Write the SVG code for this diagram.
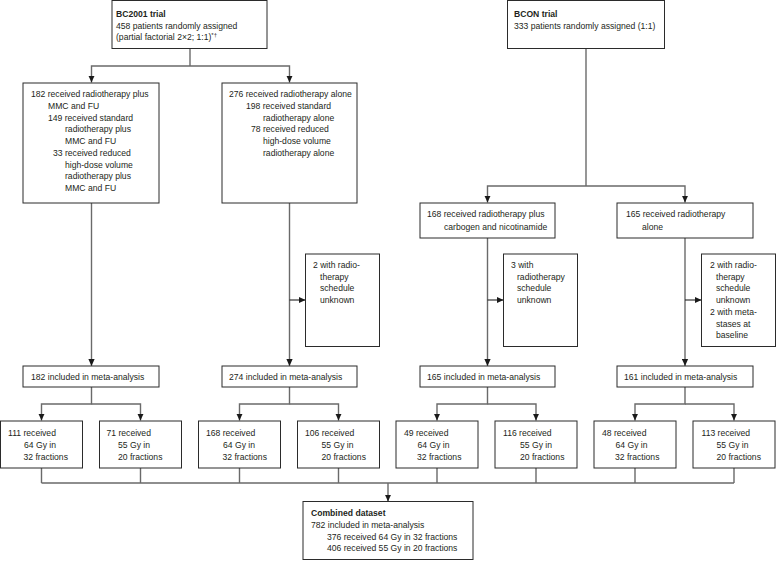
<svg xmlns="http://www.w3.org/2000/svg" width="776" height="562" viewBox="0 0 776 562">
<defs>
<marker id="ah" viewBox="0 0 10 10" refX="10" refY="5" markerWidth="7" markerHeight="7" markerUnits="userSpaceOnUse" orient="auto">
<path d="M0,0.5 L10,5 L0,9.5 Z" fill="#1a1a1a"/>
</marker>
<style>
.box{fill:#fff;stroke:#2b2b2b;stroke-width:1}
.c{fill:none;stroke:#6a6a6a;stroke-width:1.4}
.ca{fill:none;stroke:#6a6a6a;stroke-width:1.4;marker-end:url(#ah)}
.h{fill:none;stroke:#222;stroke-width:1.1;marker-end:url(#ah)}
text{font-family:"Liberation Sans",Arial,sans-serif;font-size:8.6px;fill:#231f20}
.b{font-weight:bold}
</style>
</defs>
<rect width="776" height="562" fill="#fff"/>
<g id="connectors">
<path class="c" d="M190,48.5 V66"/>
<path class="ca" d="M190,66 H91.5 V82.5"/>
<path class="ca" d="M190,66 H289.5 V82.5"/>
<path class="ca" d="M91.5,203 V366"/>
<path class="ca" d="M289.5,203 V366"/>
<path class="h" d="M289.5,300 H305.5"/>
<path class="c" d="M586,48.5 V186"/>
<path class="ca" d="M586,186 H487.5 V202.5"/>
<path class="ca" d="M586,186 H685 V202.5"/>
<path class="ca" d="M487.5,238 V366"/>
<path class="h" d="M487.5,300 H503.5"/>
<path class="ca" d="M685,238 V366"/>
<path class="h" d="M685,300 H701.5"/>
<path class="ca" d="M91.5,387 V404 H41.5 V420.5"/>
<path class="ca" d="M91.5,404 H140.5 V420.5"/>
<path class="ca" d="M289.5,387 V404 H239.5 V420.5"/>
<path class="ca" d="M289.5,404 H338.5 V420.5"/>
<path class="ca" d="M487.5,387 V404 H437 V420.5"/>
<path class="ca" d="M487.5,404 H536 V420.5"/>
<path class="ca" d="M685,387 V404 H635 V420.5"/>
<path class="ca" d="M685,404 H734 V420.5"/>
<path class="c" d="M41.5,468 V483 M140.5,468 V483 M239.5,468 V483 M338.5,468 V483 M437,468 V483 M536,468 V483 M635,468 V483 M734,468 V483 M41.5,483 H734"/>
<path class="ca" d="M388,483 V501.5"/>
</g>
<g id="bc2001">
<rect class="box" x="112" y="0.5" width="155" height="48"/>
<text x="116" y="17" class="b">BC2001 trial</text>
<text x="116" y="28.7">458 patients randomly assigned</text>
<text x="116" y="40.4">(partial factorial 2×2; 1:1)<tspan font-size="6" dy="-3">*†</tspan></text>
</g>
<g id="bcon">
<rect class="box" x="507.5" y="0.5" width="157" height="48"/>
<text x="514" y="17" class="b">BCON trial</text>
<text x="514" y="28.7">333 patients randomly assigned (1:1)</text>
</g>
<g id="arm-mmc">
<rect class="box" x="23" y="83" width="136" height="120"/>
<text x="31" y="97.3">182 received radiotherapy plus</text>
<text x="48" y="109">MMC and FU</text>
<text x="48" y="120.7">149 received standard</text>
<text x="65" y="132.4">radiotherapy plus</text>
<text x="65" y="144.1">MMC and FU</text>
<text x="53" y="155.8">33 received reduced</text>
<text x="65" y="167.5">high-dose volume</text>
<text x="65" y="179.2">radiotherapy plus</text>
<text x="65" y="190.9">MMC and FU</text>
</g>
<g id="arm-rt">
<rect class="box" x="222" y="83" width="135" height="120"/>
<text x="229" y="97.3">276 received radiotherapy alone</text>
<text x="246" y="109">198 received standard</text>
<text x="263" y="120.7">radiotherapy alone</text>
<text x="251" y="132.4">78 received reduced</text>
<text x="263" y="144.1">high-dose volume</text>
<text x="263" y="155.8">radiotherapy alone</text>
</g>
<g id="arm-carbogen">
<rect class="box" x="420" y="203" width="135" height="35"/>
<text x="427" y="217">168 received radiotherapy plus</text>
<text x="444" y="229.7">carbogen and nicotinamide</text>
</g>
<g id="arm-bcon-rt">
<rect class="box" x="617" y="203" width="136" height="35"/>
<text x="626" y="217">165 received radiotherapy</text>
<text x="642" y="229.7">alone</text>
</g>
<g id="excl-1">
<rect class="box" x="305.5" y="254" width="74" height="92.5"/>
<text x="313" y="268">2 with radio-</text>
<text x="320" y="279.7">therapy</text>
<text x="320" y="291.4">schedule</text>
<text x="320" y="303.1">unknown</text>
</g>
<g id="excl-2">
<rect class="box" x="503.5" y="254" width="74" height="92.5"/>
<text x="511" y="268">3 with</text>
<text x="517" y="279.7">radiotherapy</text>
<text x="517" y="291.4">schedule</text>
<text x="517" y="303.1">unknown</text>
</g>
<g id="excl-3">
<rect class="box" x="701.5" y="254" width="74" height="92.5"/>
<text x="710" y="268">2 with radio-</text>
<text x="716" y="279.7">therapy</text>
<text x="716" y="291.4">schedule</text>
<text x="716" y="303.1">unknown</text>
<text x="710" y="314.8">2 with meta-</text>
<text x="716" y="326.5">stases at</text>
<text x="716" y="338.2">baseline</text>
</g>
<g id="meta-182">
<rect class="box" x="23" y="366" width="136" height="21"/>
<text x="31" y="379.5">182 included in meta-analysis</text>
</g>
<g id="meta-274">
<rect class="box" x="222" y="366" width="135" height="21"/>
<text x="229" y="379.5">274 included in meta-analysis</text>
</g>
<g id="meta-165">
<rect class="box" x="420" y="366" width="135" height="21"/>
<text x="427" y="379.5">165 included in meta-analysis</text>
</g>
<g id="meta-161">
<rect class="box" x="617" y="366" width="136" height="21"/>
<text x="624" y="379.5">161 included in meta-analysis</text>
</g>
<g id="leaf-111">
<rect class="box" x="0.5" y="421" width="82" height="47"/>
<text x="8" y="436.3">111 received</text>
<text x="24" y="448">64 Gy in</text>
<text x="23.5" y="459.7">32 fractions</text>
</g>
<g id="leaf-71">
<rect class="box" x="99.5" y="421" width="82" height="47"/>
<text x="106.5" y="436.3">71 received</text>
<text x="118" y="448">55 Gy in</text>
<text x="118" y="459.7">20 fractions</text>
</g>
<g id="leaf-168">
<rect class="box" x="198.5" y="421" width="82" height="47"/>
<text x="206" y="436.3">168 received</text>
<text x="223" y="448">64 Gy in</text>
<text x="222.5" y="459.7">32 fractions</text>
</g>
<g id="leaf-106">
<rect class="box" x="297.5" y="421" width="82" height="47"/>
<text x="305" y="436.3">106 received</text>
<text x="321.5" y="448">55 Gy in</text>
<text x="321.5" y="459.7">20 fractions</text>
</g>
<g id="leaf-49">
<rect class="box" x="396" y="421" width="82" height="47"/>
<text x="404" y="436.3">49 received</text>
<text x="417.5" y="448">64 Gy in</text>
<text x="417" y="459.7">32 fractions</text>
</g>
<g id="leaf-116">
<rect class="box" x="495" y="421" width="82" height="47"/>
<text x="503" y="436.3">116 received</text>
<text x="520" y="448">55 Gy in</text>
<text x="520" y="459.7">20 fractions</text>
</g>
<g id="leaf-48">
<rect class="box" x="594" y="421" width="82" height="47"/>
<text x="602" y="436.3">48 received</text>
<text x="615.5" y="448">64 Gy in</text>
<text x="615" y="459.7">32 fractions</text>
</g>
<g id="leaf-113">
<rect class="box" x="693" y="421" width="82" height="47"/>
<text x="701.5" y="436.3">113 received</text>
<text x="716.5" y="448">55 Gy in</text>
<text x="716.5" y="459.7">20 fractions</text>
</g>
<g id="combined">
<rect class="box" x="303" y="501.5" width="170" height="58"/>
<text x="311" y="516.3" class="b">Combined dataset</text>
<text x="311" y="528">782 included in meta-analysis</text>
<text x="327" y="539.7">376 received 64 Gy in 32 fractions</text>
<text x="327" y="551.4">406 received 55 Gy in 20 fractions</text>
</g>
</svg>
